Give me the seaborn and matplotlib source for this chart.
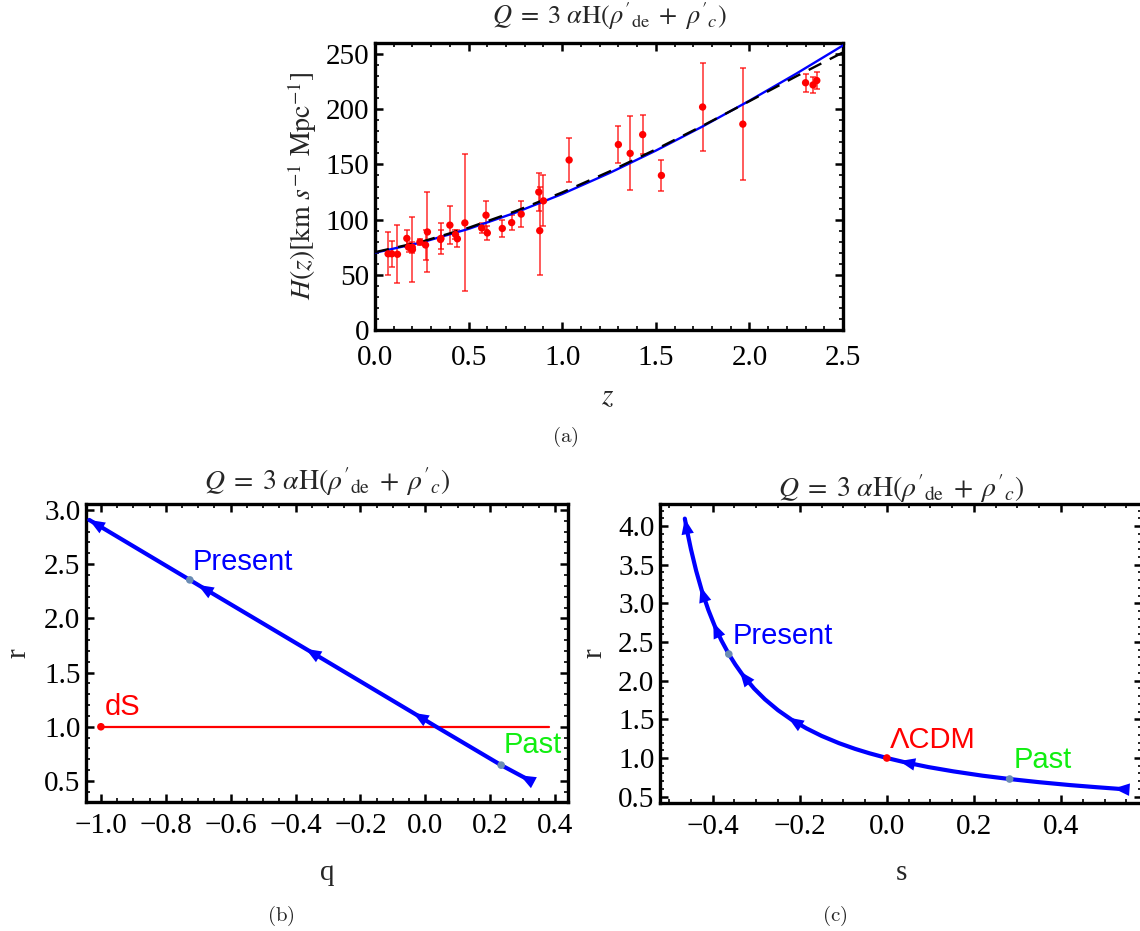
import numpy as np
import pandas as pd
import matplotlib
matplotlib.use("Agg")
import matplotlib.pyplot as plt
import seaborn as sns
from matplotlib.ticker import MultipleLocator, FuncFormatter

# ---------------- data ----------------
# (a) H(z) observations
z_obs = [0.07, 0.09, 0.12, 0.17, 0.179, 0.199, 0.20, 0.24, 0.27, 0.28, 0.35, 0.352,
         0.40, 0.43, 0.44, 0.48, 0.57, 0.593, 0.60, 0.68, 0.73, 0.781, 0.875, 0.88,
         0.90, 1.037, 1.30, 1.363, 1.43, 1.53, 1.75, 1.965, 2.30, 2.34, 2.36]
H_obs = [69.0, 69.0, 68.6, 83.0, 75.0, 75.0, 72.9, 79.7, 77.0, 88.8, 82.0, 83.0,
         95.0, 86.5, 82.6, 97.0, 92.4, 104.0, 87.9, 92.0, 97.3, 105.0, 125.0, 90.0,
         117.0, 154.0, 168.0, 160.0, 177.0, 140.0, 202.0, 186.5, 224.0, 222.0, 226.0]
H_err = [19.6, 12.0, 26.2, 8.0, 4.0, 5.0, 29.6, 2.7, 14.0, 36.6, 8.4, 14.0,
         17.0, 3.7, 7.8, 62.0, 4.5, 13.0, 6.1, 8.0, 7.0, 12.0, 17.0, 40.0,
         23.0, 20.0, 17.0, 33.6, 18.0, 14.0, 40.0, 50.4, 8.0, 7.0, 8.0]
# (a) model curves
z_model = [0.0, 0.25, 0.5, 0.75, 1.0, 1.25, 1.5, 1.75, 2.0, 2.25, 2.5]
H_model = [70.0, 79.4, 91.6, 106.3, 123.2, 142.0, 162.5, 184.4, 207.7, 232.2, 257.8]
H_lcdm = [70.5, 80.0, 92.6, 107.6, 124.6, 143.4, 163.6, 185.0, 207.3, 229.8, 251.5]

# (b) r-q trajectory (past -> future)
q_traj = [0.325, 0.234, 0.034, -0.027, -0.358, -0.69, -0.726, -1.036]
r_traj_q = [0.50, 0.646, 1.0, 1.11, 1.70, 2.29, 2.355, 2.908]
q_present, r_present_q = -0.726, 2.355
q_past, r_past_q = 0.234, 0.646
q_dS_line = [-1.0, 0.38]
r_dS_line = [1.0, 1.0]
q_dS, r_dS = -1.0, 1.0

# (c) r-s trajectory (past -> future)
s_traj = [0.549, 0.48, 0.42, 0.35, 0.282, 0.22, 0.153, 0.095, 0.038, 0.0, -0.04,
          -0.073, -0.11, -0.15, -0.185, -0.219, -0.25, -0.28, -0.305, -0.332,
          -0.348, -0.363, -0.38, -0.395, -0.41, -0.425, -0.438, -0.45, -0.458, -0.464]
r_traj_s = [0.594, 0.623, 0.650, 0.687, 0.728, 0.771, 0.827, 0.883, 0.949, 1.0, 1.061,
            1.118, 1.192, 1.286, 1.384, 1.496, 1.618, 1.759, 1.899, 2.081,
            2.209, 2.344, 2.521, 2.703, 2.915, 3.165, 3.422, 3.702, 3.917, 4.096]
s_present, r_present_s = -0.363, 2.344
s_past, r_past_s = 0.282, 0.728
s_lcdm, r_lcdm = 0.0, 1.0

title_txt = (r'$Q\;=\;3\ \alpha\mathrm{H}({\rho^{\prime}}_{\mathrm{de}}\;+\;'
             r'{\rho^{\prime}}_{c})$')

# ---------------- style ----------------
sns.set_theme(style="white")
plt.rcParams['font.family'] = ['Liberation Serif', 'DejaVu Serif']
plt.rcParams['mathtext.fontset'] = 'stix'
plt.rcParams['axes.unicode_minus'] = True

W, Hh = 1140, 931
fig = plt.figure(figsize=(W / 100, Hh / 100), dpi=100)
fig.patch.set_facecolor('white')


def box(l, t, r, b):
    return [l / W, 1 - b / Hh, (r - l) / W, (b - t) / Hh]


ax_a = fig.add_axes(box(375, 43, 843, 330))
ax_b = fig.add_axes(box(86, 504, 568, 802))
ax_c = fig.add_axes(box(660, 504, 1142, 803))

TICK_FS = 21
LAB_SANS = ['Liberation Sans', 'DejaVu Sans']


def mkfmt(fmt):
    def f(v, pos):
        if abs(v) < 1e-9:
            v = 0.0
        return (fmt % v).replace('-', '\u2212')
    return FuncFormatter(f)


def frame(ax, xmaj, xmin, ymaj, ymin, xfmt, yfmt, xpad=7, ypad=4):
    for sp in ax.spines.values():
        sp.set_linewidth(2.4)
        sp.set_color('black')
        sp.set_visible(True)
    ax.xaxis.set_major_locator(MultipleLocator(xmaj))
    ax.xaxis.set_minor_locator(MultipleLocator(xmin))
    ax.yaxis.set_major_locator(MultipleLocator(ymaj))
    ax.yaxis.set_minor_locator(MultipleLocator(ymin))
    ax.xaxis.set_major_formatter(mkfmt(xfmt))
    ax.yaxis.set_major_formatter(mkfmt(yfmt))
    ax.tick_params(which='both', direction='in', top=True, right=True,
                   bottom=True, left=True, colors='black')
    ax.tick_params(which='major', length=6, width=1.8, labelsize=TICK_FS)
    ax.tick_params(which='minor', length=3, width=1.2)
    ax.tick_params(axis='x', which='major', pad=xpad)
    ax.tick_params(axis='y', which='major', pad=ypad)
    ax.grid(False)
    ax.set_facecolor('white')


def add_arrows(ax, xs, ys, idx, offsets, color):
    P = ax.transData.transform(np.column_stack([xs, ys]))
    inv = ax.transData.inverted()
    n = len(xs)
    for i, off in zip(idx, offsets):
        j0, j1 = max(i - 1, 0), min(i + 1, n - 1)
        d = P[j1] - P[j0]
        d = d / np.linalg.norm(d)
        tip = P[i] + off * d
        tail = tip - 20 * d
        ax.annotate('', xy=inv.transform(tip), xytext=inv.transform(tail),
                    arrowprops=dict(arrowstyle='-|>,head_length=0.75,head_width=0.3',
                                    color=color, lw=0.0, mutation_scale=15,
                                    shrinkA=0, shrinkB=0), zorder=6)


# ---------------- (a) ----------------
ax = ax_a
ax.set_xlim(0, 2.5)
ax.set_ylim(0, 260)
frame(ax, 0.5, 0.1, 50, 10, '%.1f', '%d', xpad=11, ypad=4)
ax.errorbar(z_obs, H_obs, yerr=H_err, fmt='none', ecolor=(1, 0, 0, 0.75),
            elinewidth=1.2, capsize=2.5, capthick=1.2, zorder=2)
dfm = pd.DataFrame({'z': z_model, 'H': H_model, 'Hl': H_lcdm})
sns.lineplot(data=dfm, x='z', y='H', ax=ax, color='#0000ff', lw=1.7, zorder=3)
sns.lineplot(data=dfm, x='z', y='Hl', ax=ax, color='black', lw=1.7,
             zorder=4).lines[-1].set_dashes([6, 4])
sns.scatterplot(x=z_obs, y=H_obs, ax=ax, color='red', s=28, edgecolor='none',
                zorder=5)
ax.set_xlabel('')
ax.set_ylabel('')
fig.text(608 / W, 1 - 397 / Hh, r'$z$', ha='center', va='center', fontsize=21)
fig.text(302 / W, 1 - 186 / Hh,
         r'$H(z)[\mathrm{km}\ s^{-1}\ \mathrm{Mpc}^{-1}]$',
         rotation=90, ha='center', va='center', fontsize=20)
fig.text(609 / W, 1 - 16 / Hh, title_txt, ha='center', va='center', fontsize=19)
fig.text(565 / W, 1 - 437 / Hh, r'$\mathrm{(a)}$', ha='center', va='center',
         fontsize=15, math_fontfamily='cm')

# ---------------- (b) ----------------
ax = ax_b
ax.set_xlim(-1.046, 0.440)
ax.set_ylim(0.306, 3.055)
frame(ax, 0.2, 0.05, 0.5, 0.1, '%.1f', '%.1f', xpad=8, ypad=4)
sns.lineplot(x=q_dS_line, y=r_dS_line, ax=ax, color='red', lw=1.6, zorder=2)
sns.lineplot(x=q_traj, y=r_traj_q, ax=ax, color='#0000ff', lw=3.0, sort=False,
             estimator=None, zorder=3)
sns.scatterplot(x=[q_dS], y=[r_dS], ax=ax, color='red', s=30, edgecolor='none',
                zorder=5)
sns.scatterplot(x=[q_present, q_past], y=[r_present_q, r_past_q], ax=ax,
                color='#6a8cb4', s=30, edgecolor='none', zorder=7)
ax.set_xlabel('')
ax.set_ylabel('')
add_arrows(ax, q_traj, r_traj_q, [0, 3, 4, 5, 7], [12, 4, 4, 4, 0], '#0000ff')
ax.text(-0.717, 2.446, 'Present', color='#0000ff', fontsize=21, family=LAB_SANS,
        ha='left', va='baseline', zorder=8)
ax.text(-0.989, 1.11, 'dS', color='red', fontsize=21, family=LAB_SANS,
        ha='left', va='baseline', zorder=8)
ax.text(0.243, 0.756, 'Past', color='#11ee11', fontsize=21, family=LAB_SANS,
        ha='left', va='baseline', zorder=8)
fig.text(327 / W, 1 - 873 / Hh, 'q', ha='center', va='center', fontsize=21)
fig.text(18 / W, 1 - 653 / Hh, 'r', ha='center', va='center', fontsize=21,
         rotation=90)
fig.text(327 / W, 1 - 482 / Hh, title_txt, ha='center', va='center', fontsize=20)
fig.text(281 / W, 1 - 916 / Hh, r'$\mathrm{(b)}$', ha='center', va='center',
         fontsize=15, math_fontfamily='cm')

# ---------------- (c) ----------------
ax = ax_c
ax.set_xlim(-0.521, 0.586)
ax.set_ylim(0.418, 4.285)
frame(ax, 0.2, 0.05, 0.5, 0.1, '%.1f', '%.1f', xpad=8, ypad=4)
sns.lineplot(x=s_traj, y=r_traj_s, ax=ax, color='#0000ff', lw=3.0, sort=False,
             estimator=None, zorder=3)
sns.scatterplot(x=[s_lcdm], y=[r_lcdm], ax=ax, color='red', s=30, edgecolor='none',
                zorder=7)
sns.scatterplot(x=[s_present, s_past], y=[r_present_s, r_past_s], ax=ax,
                color='#6a8cb4', s=30, edgecolor='none', zorder=7)
ax.set_xlabel('')
ax.set_ylabel('')
add_arrows(ax, s_traj, r_traj_s, [0, 8, 15, 19, 23, 25, 29],
           [12, 4, 4, 4, 4, 4, 0], '#0000ff')
ax.text(-0.355, 2.473, 'Present', color='#0000ff', fontsize=21, family=LAB_SANS,
        ha='left', va='baseline', zorder=8)
ax.text(0.008, 1.126, '\u039bCDM', color='red', fontsize=21, family=LAB_SANS,
        ha='left', va='baseline', zorder=8)
ax.text(0.291, 0.867, 'Past', color='#11ee11', fontsize=21, family=LAB_SANS,
        ha='left', va='baseline', zorder=8)
fig.text(901 / W, 1 - 873 / Hh, 's', ha='center', va='center', fontsize=21)
fig.text(594 / W, 1 - 653 / Hh, 'r', ha='center', va='center', fontsize=21,
         rotation=90)
fig.text(901 / W, 1 - 489 / Hh, title_txt, ha='center', va='center', fontsize=20)
fig.text(835 / W, 1 - 916 / Hh, r'$\mathrm{(c)}$', ha='center', va='center',
         fontsize=15, math_fontfamily='cm')

fig.savefig('out.png', dpi=100, facecolor='white')
